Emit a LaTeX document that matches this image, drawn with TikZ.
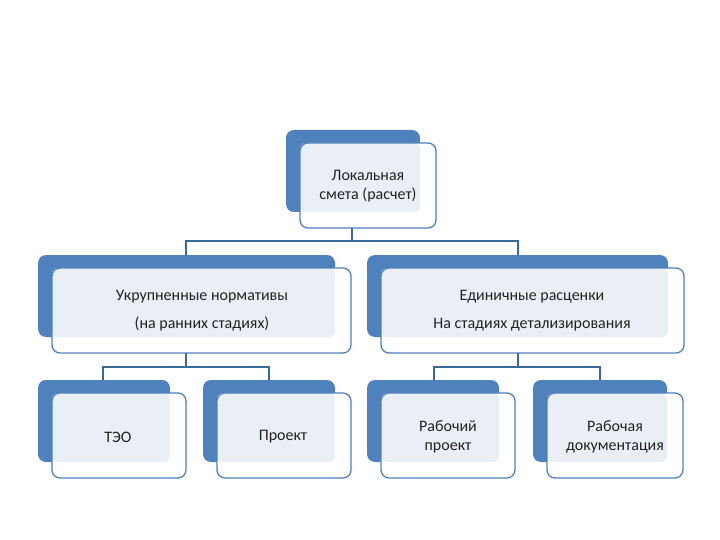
\documentclass[tikz,border=0pt]{standalone}
\usepackage{fontspec}
\setmainfont{Carlito}
\definecolor{bcol}{HTML}{4F81BD}
\definecolor{lcol}{HTML}{3A6A9A}
\definecolor{tcol}{HTML}{222222}
\definecolor{pale}{HTML}{EAEFF6}
\newcommand\mybx[5]{%
  \fill[bk] (#2,#3) rectangle (#4,#5);
  \fill[white, rounded corners=8pt] (#2+14,#3+13) rectangle (#4+16,#5+16);
  \fill[pale, rounded corners=6pt] (#2+14,#3+13) rectangle (#4,#5);
  \draw[fr] (#2+14,#3+13) rectangle (#4+16,#5+16);
}
\begin{document}
\begin{tikzpicture}[x=1pt,y=-1pt,
  bk/.style={fill=bcol, rounded corners=8pt},
  fr/.style={draw=bcol, line width=1.3pt, rounded corners=8pt},
  lab/.style={text=tcol, font=\fontsize{16}{19}\selectfont, align=center},
  ln/.style={draw=lcol, line width=1.2pt}]
\useasboundingbox (0,0) rectangle (720,540);
\fill[white] (0,0) rectangle (720,540);
\mybx{a}{286}{130}{420}{212}
\mybx{l}{38}{255}{335}{337}
\mybx{r}{367}{255}{668}{337}
\mybx{p}{38}{380}{170}{462}
\mybx{q}{203}{380}{335}{462}
\mybx{s}{367}{380}{499}{462}
\mybx{u}{533}{380}{667}{462}
\node[lab] (ta) at (368,186) {Локальная\\смета (расчет)};
\node[lab, font=\fontsize{16}{28}\selectfont] (tl) at (202,311) {Укрупненные нормативы\\(на ранних стадиях)};
\node[lab, font=\fontsize{16}{28}\selectfont] (tr) at (532,311) {Единичные расценки\\На стадиях детализирования};
\node[lab] (tp) at (118,437) {ТЭО};
\node[lab] (tq) at (283,437) {Проект};
\node[lab] (ts) at (448,437) {Рабочий\\проект};
\node[lab] (tu) at (615,437) {Рабочая\\документация};
\draw[ln] (352,228) -- (352,241) -| (186,255);
\draw[ln] (352,241) -| (518,255);
\draw[ln] (186,353) -- (186,367) -| (103,380);
\draw[ln] (186,367) -| (269,380);
\draw[ln] (518,353) -- (518,367) -| (434,380);
\draw[ln] (518,367) -| (600,380);
\end{tikzpicture}
\end{document}
